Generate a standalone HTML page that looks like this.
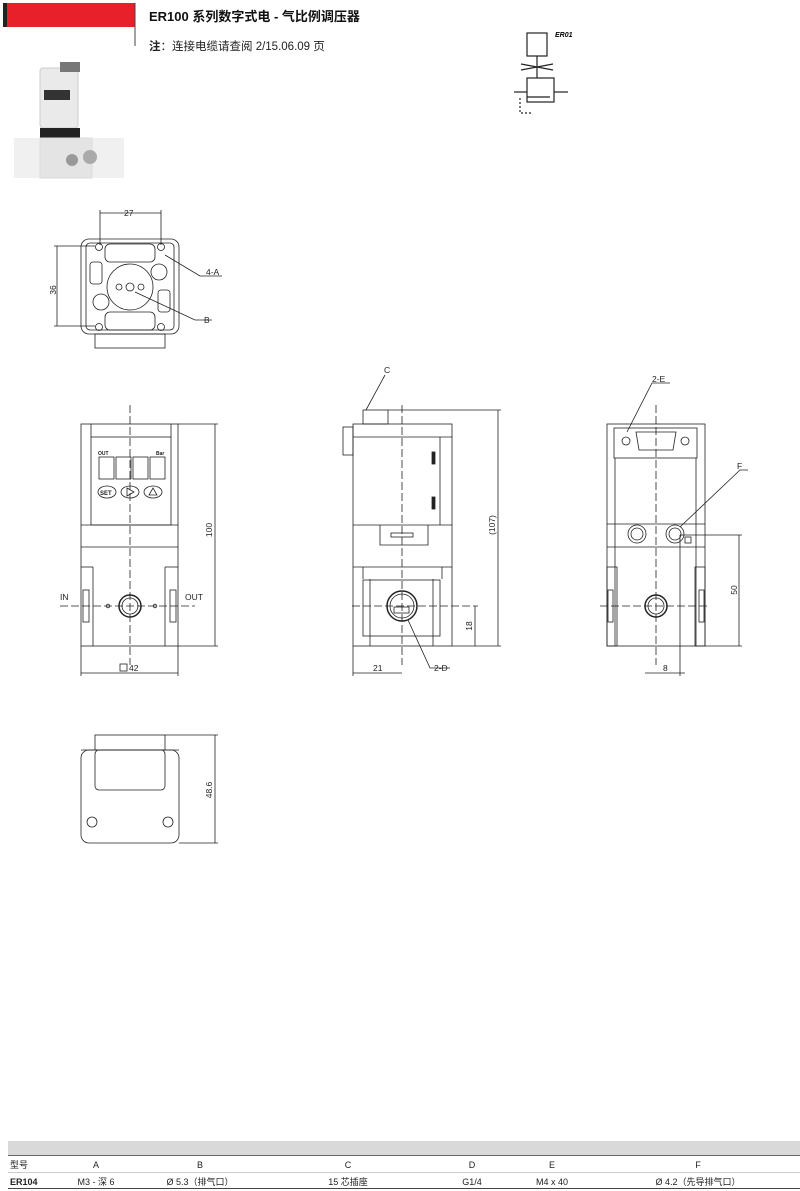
<!DOCTYPE html>
<html><head><meta charset="utf-8"><style>
body{margin:0;background:#fff;width:800px;height:1191px;overflow:hidden;font-family:"Liberation Sans","Noto Sans CJK SC",sans-serif;}
svg{position:absolute;left:0;top:0}
</style></head><body>
<svg width="800" height="1191" viewBox="0 0 800 1191" font-family="Liberation Sans, Noto Sans CJK SC, sans-serif">
<!-- header -->
<rect x="3" y="3" width="4" height="24" fill="#222"/>
<rect x="7" y="3" width="128" height="24" fill="#e8202a"/>
<line x1="135" y1="3" x2="135" y2="46" stroke="#444" stroke-width="1"/>
<text x="149" y="21" font-size="13" font-weight="bold" fill="#111">ER100 系列数字式电 - 气比例调压器</text>
<text x="149" y="50" font-size="11.5" fill="#222"><tspan font-weight="bold">注</tspan>：连接电缆请查阅 2/15.06.09 页</text>
<!-- symbol -->
<g stroke="#222" stroke-width="1.2" fill="none">
<rect x="527" y="33" width="20" height="23"/>
<line x1="537" y1="56" x2="537" y2="78"/>
<path d="M521 70 L553 64 M521 64 L553 70"/>
<rect x="527" y="78" width="27" height="24"/>
<line x1="514" y1="92" x2="527" y2="92"/><line x1="554" y1="92" x2="568" y2="92"/>
<line x1="527" y1="97" x2="550" y2="97"/>
<path d="M520 98 v15 h12" stroke-dasharray="2,2"/>
</g>
<text x="555" y="37" font-size="7" font-style="italic" font-weight="bold">ER01</text>
<!-- photo -->
<g>
<rect x="40" y="68" width="38" height="60" rx="3" fill="#eaeaea" stroke="#ccc"/>
<rect x="60" y="62" width="20" height="10" fill="#777"/>
<rect x="44" y="90" width="26" height="10" fill="#333"/>
<rect x="40" y="128" width="40" height="10" fill="#222"/>
<rect x="14" y="138" width="110" height="40" fill="#f0f0f0"/>
<rect x="40" y="138" width="52" height="40" fill="#e4e4e4" stroke="#ddd"/>
<circle cx="72" cy="160" r="6" fill="#999"/><circle cx="90" cy="157" r="7" fill="#aaa"/>
</g>
<g stroke="#222" stroke-width="0.8" fill="none">
<!-- top view -->
<rect x="81" y="239" width="98" height="95" rx="8"/>
<rect x="86" y="243" width="88" height="87" rx="4"/>
<rect x="95" y="334" width="70" height="14"/>
<circle cx="130" cy="287" r="23"/>
<circle cx="130" cy="287" r="4"/><circle cx="119" cy="287" r="3"/><circle cx="141" cy="287" r="3"/>
<circle cx="99" cy="247" r="3.5"/><circle cx="161" cy="247" r="3.5"/><circle cx="99" cy="327" r="3.5"/><circle cx="161" cy="327" r="3.5"/>
<rect x="105" y="244" width="50" height="18" rx="5"/><rect x="105" y="312" width="50" height="18" rx="5"/>
<rect x="90" y="262" width="12" height="22" rx="3"/><rect x="158" y="290" width="12" height="22" rx="3"/>
<circle cx="159" cy="272" r="8"/><circle cx="101" cy="302" r="8"/>
<line x1="100" y1="213" x2="161" y2="213"/><line x1="100" y1="210" x2="100" y2="245"/><line x1="161" y1="210" x2="161" y2="245"/>
<line x1="57" y1="246" x2="57" y2="326"/><line x1="54" y1="246" x2="95" y2="246"/><line x1="54" y1="326" x2="95" y2="326"/>
<path d="M165 255 L200 276 H222"/><path d="M135 292 L195 320 H212"/>
<!-- front view -->
<rect x="81" y="424" width="97" height="222"/>
<rect x="91" y="437" width="80" height="88"/>
<line x1="81" y1="525" x2="178" y2="525"/><line x1="81" y1="547" x2="178" y2="547"/>
<line x1="91" y1="424" x2="91" y2="437"/><line x1="171" y1="424" x2="171" y2="437"/>
<line x1="93" y1="567" x2="93" y2="646"/><line x1="165" y1="567" x2="165" y2="646"/>
<line x1="81" y1="567" x2="93" y2="567"/><line x1="165" y1="567" x2="178" y2="567"/>
<rect x="83" y="590" width="6" height="32"/><rect x="170" y="590" width="6" height="32"/>
<rect x="99" y="457" width="15" height="22"/><rect x="116" y="457" width="15" height="22"/><rect x="133" y="457" width="15" height="22"/><rect x="150" y="457" width="15" height="22"/>
<ellipse cx="107" cy="492" rx="9" ry="6"/><ellipse cx="130" cy="492" rx="9" ry="6"/><ellipse cx="153" cy="492" rx="9" ry="6"/>
<path d="M127 488 v8 l7 -4z"/><path d="M149 495 h8 l-4 -7z"/>
<circle cx="130" cy="606" r="11" stroke-width="1.5"/><circle cx="130" cy="606" r="8"/>
<circle cx="108" cy="606" r="1.8"/><circle cx="155" cy="606" r="1.8"/>
<line x1="130" y1="405" x2="130" y2="665" stroke-dasharray="8,3"/>
<line x1="60" y1="606" x2="195" y2="606" stroke-dasharray="8,3"/>
<line x1="215" y1="424" x2="215" y2="646"/><line x1="178" y1="424" x2="218" y2="424"/><line x1="178" y1="646" x2="218" y2="646"/>
<line x1="81" y1="673" x2="178" y2="673"/><line x1="81" y1="646" x2="81" y2="676"/><line x1="178" y1="646" x2="178" y2="676"/>
<rect x="120" y="664" width="7" height="7"/>
<!-- side view -->
<rect x="353" y="424" width="99" height="222"/>
<line x1="353" y1="437" x2="452" y2="437"/><line x1="440" y1="437" x2="440" y2="525"/>
<rect x="363" y="410" width="25" height="14"/>
<rect x="343" y="427" width="10" height="28"/>
<rect x="432" y="452" width="3" height="12" fill="#222"/><rect x="432" y="497" width="3" height="12" fill="#222"/>
<line x1="353" y1="525" x2="452" y2="525"/>
<path d="M380 525 v20 h48 v-20"/><rect x="391" y="533" width="22" height="4"/>
<line x1="353" y1="567" x2="452" y2="567"/>
<path d="M363 567 v12 h-0 M442 567 v12"/>
<rect x="363" y="580" width="77" height="56"/>
<line x1="370" y1="579" x2="370" y2="646"/><line x1="433" y1="579" x2="433" y2="646"/>
<circle cx="402" cy="606" r="15" stroke-width="1.5"/><circle cx="402" cy="606" r="12"/>
<rect x="394" y="607" width="15" height="6"/>
<line x1="402" y1="405" x2="402" y2="665" stroke-dasharray="8,3"/>
<line x1="352" y1="606" x2="478" y2="606" stroke-dasharray="8,3"/>
<line x1="498" y1="410" x2="498" y2="646"/><line x1="388" y1="410" x2="501" y2="410"/><line x1="452" y1="646" x2="501" y2="646"/>
<line x1="475" y1="606" x2="475" y2="646"/>
<line x1="353" y1="673" x2="402" y2="673"/><line x1="353" y1="646" x2="353" y2="676"/>
<path d="M385 375 L366 410"/><path d="M408 620 L430 668 H450"/>
<!-- right view -->
<rect x="607" y="424" width="98" height="222"/>
<rect x="614" y="428" width="83" height="30"/>
<path d="M636 432 h40 l-3 18 h-34z"/>
<circle cx="626" cy="441" r="4"/><circle cx="685" cy="441" r="4"/>
<line x1="607" y1="524" x2="705" y2="524"/><line x1="607" y1="547" x2="705" y2="547"/>
<line x1="615" y1="458" x2="615" y2="646"/><line x1="696" y1="458" x2="696" y2="646"/>
<circle cx="637" cy="534" r="9"/><circle cx="637" cy="534" r="6"/>
<circle cx="675" cy="534" r="9"/><circle cx="675" cy="534" r="6"/>
<rect x="685" y="537" width="6" height="6"/>
<rect x="607" y="567" width="10" height="79"/><rect x="695" y="567" width="10" height="79"/>
<rect x="608" y="590" width="5" height="32"/><rect x="699" y="590" width="5" height="32"/>
<circle cx="656" cy="606" r="11" stroke-width="1.5"/><circle cx="656" cy="606" r="8"/>
<line x1="656" y1="405" x2="656" y2="665" stroke-dasharray="8,3"/>
<line x1="600" y1="606" x2="710" y2="606" stroke-dasharray="8,3"/>
<line x1="739" y1="535" x2="739" y2="646"/><line x1="680" y1="535" x2="742" y2="535"/><line x1="705" y1="646" x2="742" y2="646"/>
<line x1="645" y1="673" x2="685" y2="673"/><line x1="680" y1="535" x2="680" y2="676"/>
<path d="M670 383 H652 L627 432"/><path d="M748 470 H740 L680 527"/>
<!-- bottom view -->
<rect x="81" y="750" width="98" height="93" rx="8"/>
<rect x="95" y="735" width="70" height="15"/>
<rect x="95" y="750" width="70" height="40" rx="4"/>
<line x1="81" y1="750" x2="179" y2="750"/>
<circle cx="92" cy="822" r="5"/><circle cx="168" cy="822" r="5"/>
<line x1="215" y1="735" x2="215" y2="843"/><line x1="165" y1="735" x2="218" y2="735"/><line x1="179" y1="843" x2="218" y2="843"/>
</g>
<g font-size="8.5" fill="#222">
<text x="124" y="216">27</text>
<text x="56" y="290" transform="rotate(-90 56 290)" text-anchor="middle">36</text>
<text x="206" y="275">4-A</text><text x="204" y="323">B</text>
<text x="98" y="455" font-size="5" font-weight="bold">OUT</text><text x="156" y="455" font-size="5" font-weight="bold">Bar</text>
<text x="100" y="495" font-size="6" font-weight="bold">SET</text>
<text x="212" y="530" transform="rotate(-90 212 530)" text-anchor="middle">100</text>
<text x="60" y="600">IN</text><text x="185" y="600">OUT</text>
<text x="129" y="671">42</text>
<text x="384" y="373">C</text>
<text x="495" y="525" transform="rotate(-90 495 525)" text-anchor="middle">(107)</text>
<text x="472" y="626" transform="rotate(-90 472 626)" text-anchor="middle">18</text>
<text x="373" y="671">21</text><text x="434" y="671">2-D</text>
<text x="652" y="382">2-E</text><text x="737" y="469">F</text>
<text x="737" y="590" transform="rotate(-90 737 590)" text-anchor="middle">50</text>
<text x="663" y="671">8</text>
<text x="212" y="790" transform="rotate(-90 212 790)" text-anchor="middle">48.6</text>
</g>
<!-- table -->
<rect x="8" y="1141" width="792" height="14" fill="#d9d9d9"/>
<line x1="8" y1="1155.5" x2="800" y2="1155.5" stroke="#666"/>
<line x1="8" y1="1172.5" x2="800" y2="1172.5" stroke="#999" stroke-width="0.6"/>
<line x1="8" y1="1188.5" x2="800" y2="1188.5" stroke="#444"/>
<g font-size="9" fill="#222">
<text x="10" y="1168">型号</text><text x="96" y="1168" text-anchor="middle">A</text><text x="200" y="1168" text-anchor="middle">B</text><text x="348" y="1168" text-anchor="middle">C</text><text x="472" y="1168" text-anchor="middle">D</text><text x="552" y="1168" text-anchor="middle">E</text><text x="698" y="1168" text-anchor="middle">F</text>
<text x="10" y="1185" font-weight="bold">ER104</text><text x="96" y="1185" text-anchor="middle">M3 - 深 6</text><text x="200" y="1185" text-anchor="middle">Ø 5.3（排气口）</text><text x="348" y="1185" text-anchor="middle">15 芯插座</text><text x="472" y="1185" text-anchor="middle">G1/4</text><text x="552" y="1185" text-anchor="middle">M4 x 40</text><text x="698" y="1185" text-anchor="middle">Ø 4.2（先导排气口）</text>
</g>
</svg>
</body></html>
